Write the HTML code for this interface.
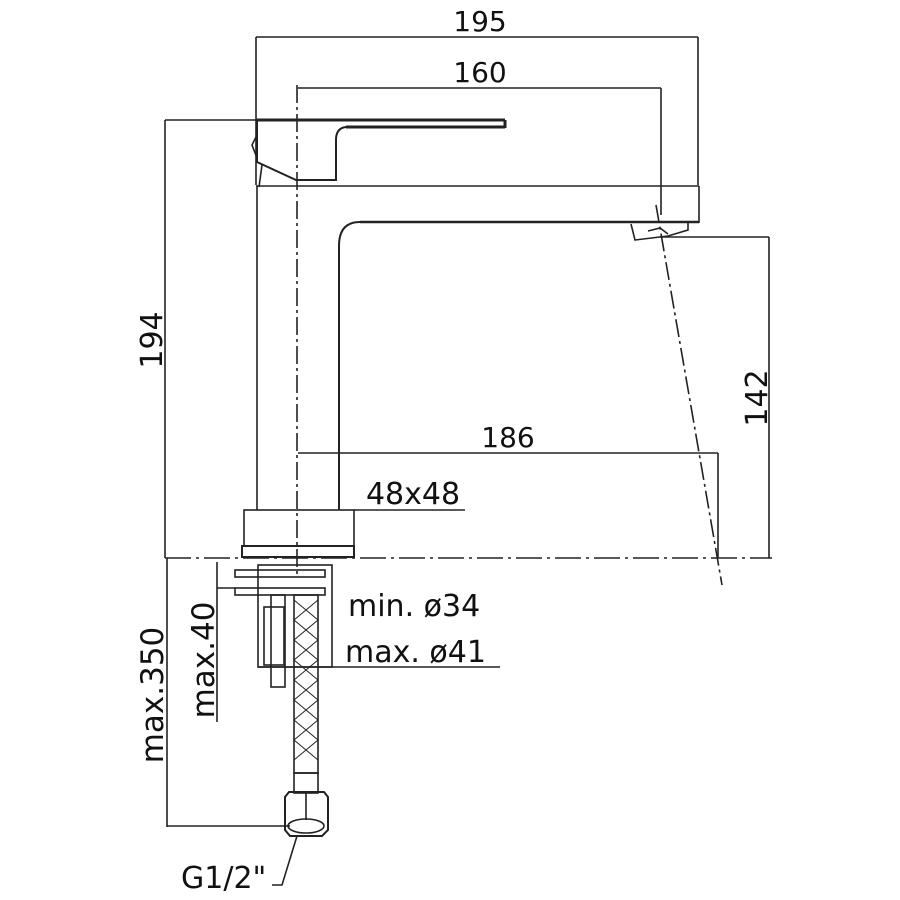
<!DOCTYPE html>
<html><head><meta charset="utf-8"><style>
html,body{margin:0;padding:0;background:#fff}
svg{display:block}
text{font-family:"DejaVu Sans","Liberation Sans",sans-serif;fill:#111}
</style></head><body>
<svg width="900" height="900" viewBox="0 0 900 900" xmlns="http://www.w3.org/2000/svg">
<g fill="none" stroke="#222" stroke-width="1.6">
<line x1="256" y1="37" x2="698" y2="37"/>
<line x1="256" y1="37" x2="256" y2="185"/>
<line x1="698" y1="37" x2="698" y2="185"/>
<line x1="298" y1="88" x2="661" y2="88"/>
<line x1="661" y1="88" x2="661" y2="215"/>
<line x1="165" y1="120" x2="260" y2="120"/>
<line x1="165" y1="120" x2="165" y2="558"/>
<line x1="256" y1="120" x2="505" y2="120" stroke-width="3"/>
<line x1="346" y1="127" x2="505" y2="127" stroke-width="3"/>
<path d="M505 120 L505 128" stroke-width="3"/>
<path d="M346 127 Q336 128 336 140 L336 180 L296 180 L257 162 L257 120" stroke-width="2"/>
<path d="M257 135 L252 145 L257 158"/>
<path d="M262 165 L259 187"/>
<line x1="256" y1="186" x2="699" y2="186"/>
<line x1="699" y1="186" x2="699" y2="223"/>
<line x1="360" y1="222" x2="699" y2="222" stroke-width="2.5"/>
<path d="M360 222 Q339 222 339 246 L339 510" stroke-width="2"/>
<line x1="257" y1="186" x2="257" y2="510"/>
<path d="M631 224 L635 240 L668 236 L688 230 L688 223"/>
<path d="M648 231 L660 228 L668 234"/>
<rect x="244" y="510" width="110" height="36"/>
<rect x="242" y="546" width="112" height="11" stroke-width="2"/>
<line x1="354" y1="510" x2="465" y2="510"/>
<line x1="298" y1="453" x2="718" y2="453"/>
<line x1="718" y1="453" x2="718" y2="558"/>
<line x1="660" y1="237" x2="769" y2="237"/>
<line x1="769" y1="237" x2="769" y2="558"/>
<line x1="297" y1="85" x2="297" y2="578" stroke-dasharray="18 4 3 4"/>
<line x1="165" y1="558" x2="772" y2="558" stroke-dasharray="26 5 3 5"/>
<line x1="656" y1="205" x2="722" y2="585" stroke-dasharray="18 4 3 4"/>
<rect x="235" y="570" width="90" height="7"/>
<rect x="235" y="588" width="90" height="7"/>
<rect x="258" y="565" width="74" height="102"/>
<rect x="264" y="607" width="20" height="58"/>
<rect x="271" y="595" width="14" height="92"/>
<rect x="294" y="595" width="24" height="178"/>
<path d="M294 600 L318 620 M318 600 L294 620 M294 620 L318 640 M318 620 L294 640 M294 640 L318 660 M318 640 L294 660 M294 660 L318 680 M318 660 L294 680 M294 680 L318 700 M318 680 L294 700 M294 700 L318 720 M318 700 L294 720 M294 720 L318 740 M318 720 L294 740 M294 740 L318 760 M318 740 L294 760" stroke-width="1"/>
<rect x="294" y="773" width="24" height="20"/>
<path d="M285 797 L289 792 L324 792 L328 797 L328 830 L322 836 L290 836 L285 830 Z" stroke-width="2"/>
<ellipse cx="306" cy="826" rx="18" ry="7"/>
<line x1="306" y1="793" x2="306" y2="820"/>
<line x1="217" y1="562" x2="217" y2="722"/>
<line x1="217" y1="588" x2="235" y2="588"/>
<line x1="167" y1="558" x2="167" y2="827"/>
<line x1="167" y1="826" x2="290" y2="826"/>
<line x1="258" y1="667" x2="500" y2="667"/>
<path d="M297 836 L282 885 L272 885"/>
</g>
<text x="480" y="31" font-size="28" text-anchor="middle">195</text>
<text x="480" y="82" font-size="28" text-anchor="middle">160</text>
<text x="508" y="447" font-size="28" text-anchor="middle">186</text>
<text x="413" y="504" font-size="30" text-anchor="middle">48x48</text>
<text transform="translate(162,340) rotate(-90)" font-size="30" text-anchor="middle">194</text>
<text transform="translate(767,398) rotate(-90)" font-size="30" text-anchor="middle">142</text>
<text x="348" y="616" font-size="30">min. ø34</text>
<text x="345" y="662" font-size="30">max. ø41</text>
<text transform="translate(214,660) rotate(-90)" font-size="31" text-anchor="middle">max.40</text>
<text transform="translate(163,695) rotate(-90)" font-size="31" text-anchor="middle">max.350</text>
<text x="181" y="888" font-size="30">G1/2"</text>
</svg>
</body></html>
